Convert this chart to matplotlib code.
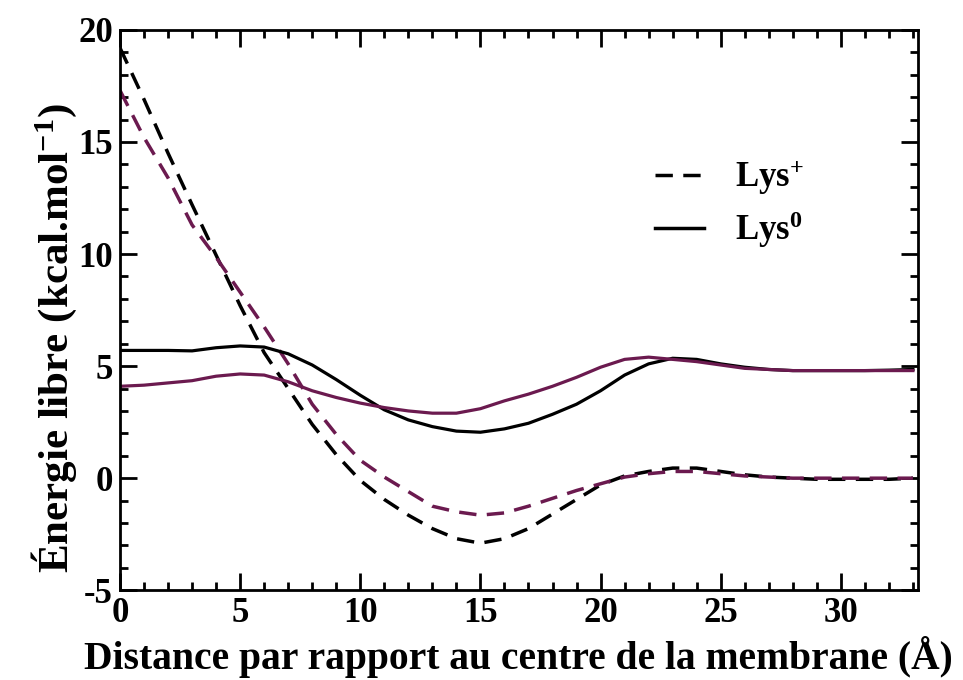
import numpy as np
import matplotlib
matplotlib.use('Agg')
import matplotlib.pyplot as plt
from matplotlib.lines import Line2D

plt.rcParams['font.family'] = 'Liberation Serif'
plt.rcParams['font.weight'] = 'bold'
plt.rcParams['mathtext.fontset'] = 'custom'
plt.rcParams['mathtext.rm'] = 'Liberation Serif:bold'
plt.rcParams['mathtext.it'] = 'Liberation Serif:bold'
plt.rcParams['mathtext.bf'] = 'Liberation Serif:bold'
plt.rcParams['axes.unicode_minus'] = False

# Distance au centre de la membrane (Å)
x = [0, 1, 2, 3, 4, 5, 6, 7, 8, 9, 10, 11, 12, 13, 14, 15, 16,
     17, 18, 19, 20, 21, 22, 23, 24, 25, 26, 27, 28, 29, 30, 31, 32, 33]

# Lys+ (pointillés)
lys_plus_noir = [19.2, 16.9, 14.5, 12.2, 9.95, 7.7, 5.6, 4.0, 2.4, 1.05, -0.1, -0.95,
                 -1.65, -2.25, -2.7, -2.9, -2.7, -2.25, -1.6, -0.95, -0.3, 0.1, 0.3,
                 0.45, 0.45, 0.3, 0.15, 0.05, 0.0, -0.05, -0.05, -0.05, -0.05, 0.0]
lys_plus_violet = [17.3, 15.2, 13.4, 11.3, 9.85, 8.3, 6.75, 5.1, 3.3, 1.95, 0.8, 0.05,
                   -0.6, -1.25, -1.5, -1.65, -1.55, -1.25, -0.9, -0.55, -0.25, 0.05, 0.2,
                   0.3, 0.3, 0.2, 0.1, 0.05, 0.0, 0.0, 0.0, 0.0, 0.0, 0.0]

# Lys0 (traits pleins)
lys0_noir = [5.7, 5.7, 5.7, 5.68, 5.82, 5.9, 5.85, 5.55, 5.05, 4.4, 3.7, 3.05, 2.6,
             2.3, 2.1, 2.05, 2.2, 2.45, 2.85, 3.3, 3.9, 4.6, 5.1, 5.35, 5.3, 5.1,
             4.95, 4.85, 4.8, 4.8, 4.8, 4.8, 4.82, 4.85]
lys0_violet = [4.1, 4.15, 4.25, 4.35, 4.55, 4.65, 4.6, 4.3, 3.9, 3.6, 3.35, 3.15, 3.0,
               2.9, 2.9, 3.1, 3.45, 3.75, 4.1, 4.5, 4.95, 5.3, 5.4, 5.3, 5.2, 5.05,
               4.9, 4.85, 4.8, 4.8, 4.8, 4.8, 4.8, 4.8]

violet = '#6b1a4f'
dash = (0, (5, 3))

fig = plt.figure(figsize=(9.63, 6.8), dpi=100)
ax = fig.add_axes([0.1246, 0.132, 0.8284, 0.824])

ax.plot(x, lys_plus_noir, color='black', lw=2.5, linestyle=dash)
ax.plot(x, lys_plus_violet, color=violet, lw=2.5, linestyle=dash)
ax.plot(x, lys0_noir, color='black', lw=2.3)
ax.plot(x, lys0_violet, color=violet, lw=2.3)

ax.set_xlim(0, 33.2)
ax.set_ylim(-5, 20)
ax.set_xticks([0, 5, 10, 15, 20, 25, 30])
ax.set_yticks([-5, 0, 5, 10, 15, 20])
ax.set_xticks(np.arange(0, 34, 1), minor=True)
ax.set_yticks(np.arange(-5, 21, 1), minor=True)
ax.tick_params(which='both', direction='in', top=True, right=True, width=2,
               labelsize=25, pad=5)
ax.tick_params(which='major', length=12)
ax.tick_params(which='minor', length=6)
for s in ax.spines.values():
    s.set_linewidth(2)

ax.set_xlabel('Distance par rapport au centre de la membrane (Å)', fontsize=28.5,
              fontweight='bold', labelpad=4)
ax.set_ylabel(r'Énergie libre (kcal.mol$^{-1}$)', fontsize=31, fontweight='bold')
ax.yaxis.set_label_coords(-0.052, 0.45)

handles = [Line2D([], [], color='black', lw=2.5, linestyle=dash),
           Line2D([], [], color='black', lw=2.5)]
ax.legend(handles, [r'Lys$^{+}$', r'Lys$^{0}$'], loc='upper left',
          bbox_to_anchor=(0.632, 0.826), frameon=False, fontsize=25,
          handlelength=1.4, handletextpad=0.9, labelspacing=0.35)

fig.savefig('out.png', dpi=100)
